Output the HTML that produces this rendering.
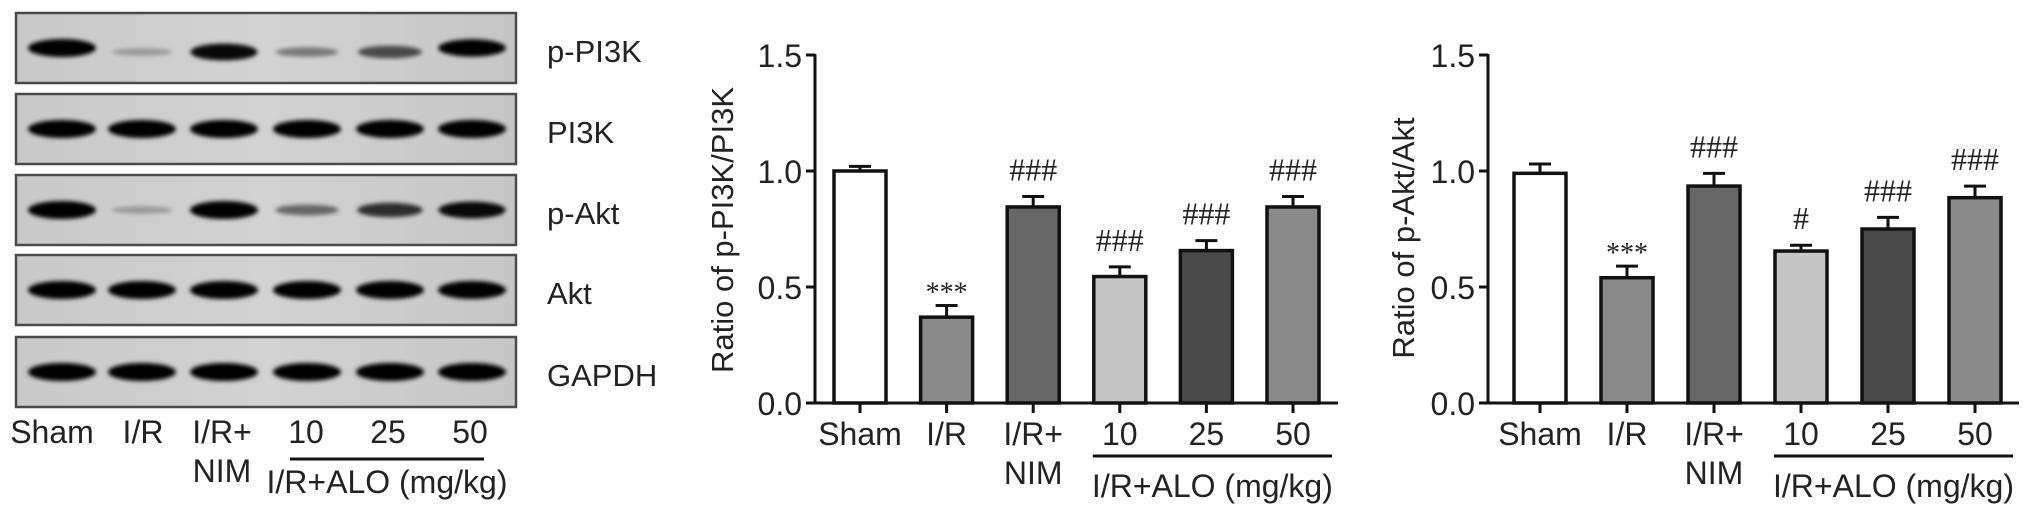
<!DOCTYPE html>
<html><head><meta charset="utf-8">
<style>
html,body{margin:0;padding:0;background:#fff;}
svg{display:block;font-family:"Liberation Sans",Arial,sans-serif;}
</style></head>
<body>
<svg id="fig" width="2032" height="522" viewBox="0 0 2032 522" xmlns="http://www.w3.org/2000/svg">
<defs>
<filter id="blur" x="-30%" y="-80%" width="160%" height="260%"><feGaussianBlur stdDeviation="2"/></filter>
<linearGradient id="bg" x1="0" y1="0" x2="1" y2="0"><stop offset="0" stop-color="#c9c9c9"/><stop offset="0.5" stop-color="#d2d2d2"/><stop offset="1" stop-color="#c6c6c6"/></linearGradient>
</defs>
<g id="blot"></g>
<g id="c1"></g>
<g id="c2"></g>
</svg>
<script>
const NS="http://www.w3.org/2000/svg";
// ---- data ----
const categories=["Sham","I/R","I/R+NIM","10","25","50"];
const pi3kValues=[1.0,0.37,0.845,0.545,0.657,0.845];
const pi3kErrors=[0.02,0.05,0.045,0.042,0.043,0.045];
const pi3kMarks=["","***","###","###","###","###"];
const aktValues=[0.99,0.54,0.935,0.655,0.75,0.885];
const aktErrors=[0.04,0.05,0.055,0.025,0.05,0.05];
const aktMarks=["","***","###","#","###","###"];
const yTicks=[0.0,0.5,1.0,1.5];
const yTickLabels=["0.0","0.5","1.0","1.5"];
const barFills=["#ffffff","#8a8a8a","#676767","#c6c6c6","#4a4a4a","#8a8a8a"];
const blotRows=["p-PI3K","PI3K","p-Akt","Akt","GAPDH"];
const blotIntensity=[[1,0.12,0.9,0.3,0.55,0.95],[1,1,1,1,1,1],[1,0.12,1,0.4,0.7,0.9],[1,1,1,1,1,1],[1,1,1,1,1,1]];

function el(tag,attrs,parent,text){const e=document.createElementNS(NS,tag);for(const k in attrs)e.setAttribute(k,attrs[k]);if(text!==undefined)e.textContent=text;parent.appendChild(e);return e;}

// ---- western blot ----
const blot=document.getElementById('blot');
const rowTops=[13,94,175,255,337], rowH=70, laneX=[62,142,224,307,390,472];
blotRows.forEach((name,r)=>{
  const g=el('g',{},blot);
  
  
  el('rect',{x:16,y:rowTops[r],width:500,height:rowH,fill:'url(#bg)',stroke:'#4a4a4a','stroke-width':2.5},g);
  laneX.forEach((lx,i)=>{
    const v=blotIntensity[r][i];
    const cy=rowTops[r]+35+(r===0&&i>0&&i<5?4:0);
    const b=el('ellipse',{cx:lx,cy:cy,rx:30+4*v,ry:3+6*v,fill:'#000','fill-opacity':Math.min(1,0.15+0.9*v),filter:'url(#blur)'},g);
    
    
  });
  const t=el('text',{x:547,y:rowTops[r]+49,'font-size':31,fill:'#222'},blot,name);
  
  
});
function groupLabels(parent,centers,y0,lineX1,lineX2,lineY,groupY){
  const labs=[["Sham"],["I/R"],["I/R+","NIM"],["10"],["25"],["50"]];
  labs.forEach((l,i)=>{l.forEach((s,j)=>{const t=el('text',{x:centers[i],y:y0+j*39,'text-anchor':'middle','font-size':32,fill:'#222'},parent,s);
    
    });});
  const ln=el('line',{x1:lineX1,x2:lineX2,y1:lineY,y2:lineY,stroke:'#111','stroke-width':3},parent);
  
  
  const gt=el('text',{x:(lineX1+lineX2)/2,y:groupY,'text-anchor':'middle','font-size':32,fill:'#222'},parent,"I/R+ALO (mg/kg)");
  
  
}
groupLabels(blot,[52,143,222,306,388,470],443,290,484,459,493);

// ---- charts ----
function chart(gid,axisX,axisEnd,firstC,step,vals,errs,marks,title,titleX,titleY){
  const g=document.getElementById(gid);
  const y0=403, pxPerUnit=232;
  const y=v=>y0-v*pxPerUnit;
  const xc=i=>firstC+i*step;
  const bw=52;
  vals.forEach((v,i)=>{
    const cap=y(v+errs[i]);
    const e=el('line',{x1:xc(i),x2:xc(i),y1:y(v),y2:cap,stroke:'#111','stroke-width':3},g);
    
    
    el('line',{x1:xc(i)-11,x2:xc(i)+11,y1:cap,y2:cap,stroke:'#111','stroke-width':3},g);
    const b=el('rect',{x:xc(i)-bw/2,y:y(v),width:bw,height:y0-y(v),fill:barFills[i],stroke:'#111','stroke-width':3.5},g);
    
    
    if(marks[i]){
      const star=marks[i][0]==='*';
      const t=el('text',{x:xc(i),y:star?cap-4:cap-16,'text-anchor':'middle','font-size':star?28:32,fill:'#222','font-family':'"Liberation Serif",serif'},g,marks[i]);
      
      
    }
    const tk=el('line',{x1:xc(i),x2:xc(i),y1:y0,y2:y0+10,stroke:'#111','stroke-width':3},g);
    
    
  });
  const ya=el('line',{x1:axisX,x2:axisX,y1:y(1.5)-1,y2:y0+1.5,stroke:'#111','stroke-width':3},g);
  
  
  const xa=el('line',{x1:axisX-9,x2:axisEnd,y1:y0,y2:y0,stroke:'#111','stroke-width':3},g);
  
  
  yTicks.forEach((tv,i)=>{
    el('line',{x1:axisX-9,x2:axisX,y1:y(tv),y2:y(tv),stroke:'#111','stroke-width':3},g);
    const t=el('text',{x:axisX-13,y:y(tv)+12,'text-anchor':'end','font-size':32,fill:'#222'},g,yTickLabels[i]);
    
    
  });
  const tt=el('text',{x:titleX,y:titleY,'text-anchor':'middle','font-size':31,fill:'#222',transform:'rotate(-90 '+titleX+' '+titleY+')'},g,title);
  
  
  groupLabels(g,[xc(0),xc(1),xc(2),xc(3),xc(4),xc(5)],445,xc(3)-27,axisEnd-6,456,497);
}
chart('c1',815,1338,860,86.6,pi3kValues,pi3kErrors,pi3kMarks,"Ratio of p-PI3K/PI3K",733,230);
chart('c2',1488,2019,1540,87,aktValues,aktErrors,aktMarks,"Ratio of p-Akt/Akt",1414,238);
</script>
</body></html>
